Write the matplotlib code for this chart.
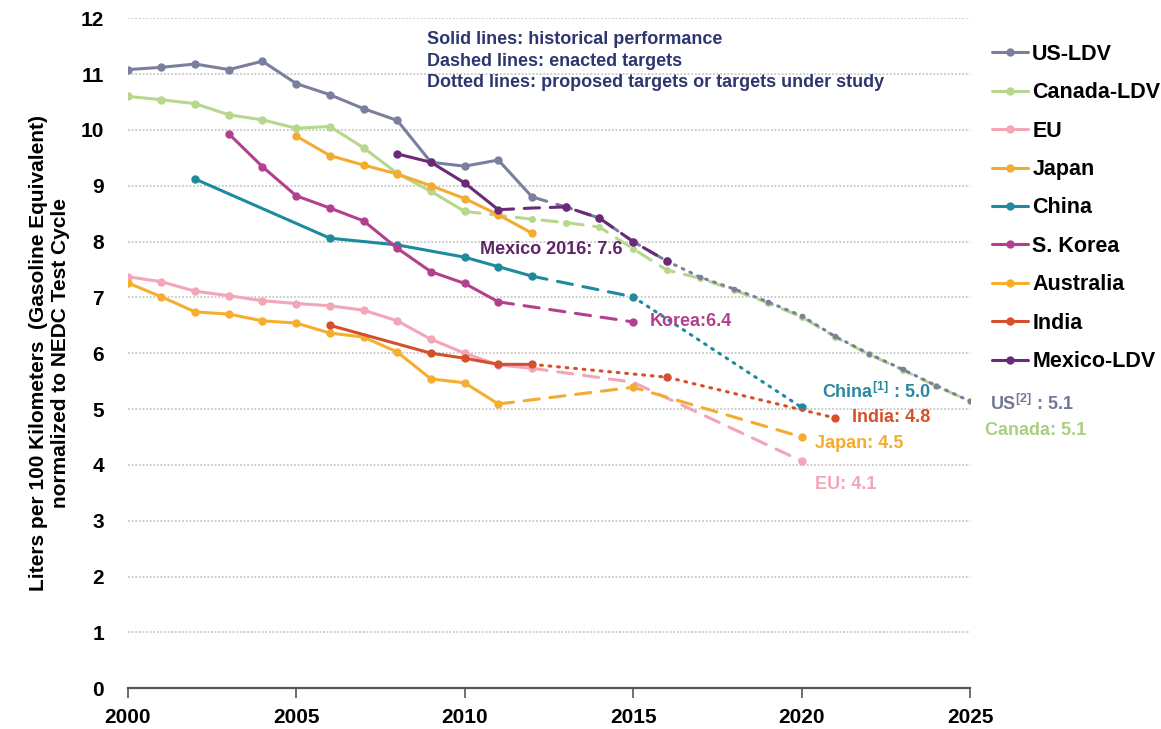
import matplotlib
matplotlib.use("Agg")
import matplotlib.pyplot as plt

plt.rcParams.update({
    "font.family": "Liberation Sans",
    "font.weight": "bold",
    "mathtext.fontset": "custom",
    "mathtext.rm": "Liberation Sans",
    "mathtext.bf": "Liberation Sans:bold",
})

# ── Colours ───────────────────────────────────────────────────────────────────
US_C     = "#7b7f9e"
CANADA_C = "#b6d78c"
EU_C     = "#f2a6b8"
JAPAN_C  = "#f5ab30"
CHINA_C  = "#1e8a9e"
KOREA_C  = "#b3408e"
AUS_C    = "#f5ae2e"
INDIA_C  = "#d4502a"
MEXICO_C = "#6b2a78"
NOTE_C   = "#2e3670"

# ── Data (L/100 km, gasoline equivalent, NEDC) ────────────────────────────────
us_hist_years = list(range(2000, 2013))
us_hist = [11.08, 11.12, 11.18, 11.08, 11.23, 10.83, 10.63, 10.38, 10.17, 9.42, 9.35, 9.46, 8.8]
us_dash_years = [2012, 2013, 2014, 2015, 2016]
us_dash = [8.8, 8.62, 8.42, 8.0, 7.65]
us_dot_years = list(range(2016, 2026))
us_dot = [7.65, 7.36, 7.15, 6.92, 6.67, 6.3, 5.99, 5.71, 5.42, 5.14]

canada_hist_years = list(range(2000, 2011))
canada_hist = [10.6, 10.54, 10.47, 10.27, 10.18, 10.03, 10.06, 9.68, 9.22, 8.9, 8.54]
canada_dash_years = list(range(2010, 2026))
canada_dash = [8.54, 8.47, 8.4, 8.34, 8.26, 7.87, 7.49, 7.34, 7.13, 6.9, 6.65,
               6.29, 5.98, 5.7, 5.41, 5.14]

eu_hist_years = list(range(2000, 2013))
eu_hist = [7.37, 7.28, 7.11, 7.03, 6.94, 6.89, 6.85, 6.77, 6.58, 6.25, 6.0, 5.79, 5.73]
eu_dash_years = [2012, 2015, 2020]
eu_dash = [5.73, 5.48, 4.07]

japan_hist_years = list(range(2005, 2013))
japan_hist = [9.89, 9.54, 9.37, 9.21, 9.0, 8.77, 8.48, 8.15]
japan_dash_years = [2011, 2015, 2020]
japan_dash = [5.09, 5.39, 4.5]

china_hist_years = [2002, 2006, 2008, 2010, 2011, 2012]
china_hist = [9.12, 8.06, 7.94, 7.72, 7.55, 7.38]
china_dash_years = [2012, 2015]
china_dash = [7.38, 7.01]
china_dot_years = [2015, 2020]
china_dot = [7.01, 5.03]

korea_hist_years = list(range(2003, 2012))
korea_hist = [9.93, 9.34, 8.82, 8.6, 8.37, 7.88, 7.46, 7.25, 6.92]
korea_dash_years = [2011, 2015]
korea_dash = [6.92, 6.56]

aus_hist_years = list(range(2000, 2012))
aus_hist = [7.26, 7.01, 6.74, 6.7, 6.58, 6.54, 6.36, 6.29, 6.02, 5.54, 5.47, 5.09]

india_hist_years = [2006, 2009, 2010, 2011, 2012]
india_hist = [6.5, 6.0, 5.91, 5.8, 5.8]
india_dot_years = [2012, 2016, 2021]
india_dot = [5.8, 5.57, 4.84]

mexico_hist_years = [2008, 2009, 2010, 2011]
mexico_hist = [9.57, 9.42, 9.05, 8.57]
mexico_dash_years = [2011, 2012, 2013, 2014, 2015, 2016]
mexico_dash = [8.57, 8.6, 8.62, 8.42, 8.0, 7.65]

# ── Figure ────────────────────────────────────────────────────────────────────
fig = plt.figure(figsize=(11.61, 7.29), dpi=100)
ax = fig.add_axes([0.110, 0.056, 0.7255, 0.919])

LW = 2.2
MS = 5
DASH = (0, (5, 3.5))
DOT = (0, (0.6, 2.2))

def solid(x, y, c, label=None):
    ax.plot(x, y, color=c, lw=LW, marker="o", ms=MS, label=label,
            solid_capstyle="round", zorder=3)

def target(x, y, c, ls, ms=MS, markevery=None):
    ax.plot(x, y, color=c, lw=LW, ls=ls, marker="o", ms=ms,
            markevery=markevery, dash_capstyle="round", zorder=3)

# targets first, histories on top
target(canada_dash_years, canada_dash, CANADA_C, DASH, ms=4)
target(us_dot_years, us_dot, US_C, DOT, ms=3)
target(us_dash_years, us_dash, US_C, DASH, markevery=[1, 2, 3, 4])
target(mexico_dash_years, mexico_dash, MEXICO_C, DASH, markevery=[2, 3, 4, 5])
target(eu_dash_years, eu_dash, EU_C, DASH, markevery=[2])
target(japan_dash_years, japan_dash, JAPAN_C, DASH, markevery=[1, 2])
target(china_dash_years, china_dash, CHINA_C, DASH, markevery=[1])
target(china_dot_years, china_dot, CHINA_C, DOT, markevery=[1])
target(korea_dash_years, korea_dash, KOREA_C, DASH, markevery=[1])
target(india_dot_years, india_dot, INDIA_C, DOT, markevery=[1, 2])

solid(us_hist_years, us_hist, US_C, "US-LDV")
solid(canada_hist_years, canada_hist, CANADA_C, "Canada-LDV")
solid(eu_hist_years, eu_hist, EU_C, "EU")
solid(japan_hist_years, japan_hist, JAPAN_C, "Japan")
solid(china_hist_years, china_hist, CHINA_C, "China")
solid(korea_hist_years, korea_hist, KOREA_C, "S. Korea")
solid(aus_hist_years, aus_hist, AUS_C, "Australia")
solid(india_hist_years, india_hist, INDIA_C, "India")
solid(mexico_hist_years, mexico_hist, MEXICO_C, "Mexico-LDV")

# ── Axes styling ──────────────────────────────────────────────────────────────
ax.set_xlim(2000, 2025)
ax.set_ylim(0, 12)
ax.set_xticks(range(2000, 2026, 5))
ax.set_yticks(range(0, 13))
for y in range(1, 13):
    ax.axhline(y, color="#c8c8c8", lw=1.3, ls=(0, (1, 1)), zorder=1)
for s in ["top", "right", "left"]:
    ax.spines[s].set_visible(False)
ax.spines["bottom"].set_color("#555555")
ax.spines["bottom"].set_linewidth(1.6)
ax.tick_params(axis="y", length=0, pad=17, labelsize=15)
ax.tick_params(axis="x", length=7, width=1.2, color="#555555", pad=7, labelsize=15)
for lab in ax.get_xticklabels() + ax.get_yticklabels():
    lab.set_fontweight("bold")

ax.set_ylabel("Liters per 100 Kilometers  (Gasoline Equivalent)\nnormalized to NEDC Test Cycle",
              fontsize=15, fontweight="bold", labelpad=8, linespacing=1.15)

# ── Annotations ───────────────────────────────────────────────────────────────
ax.text(2008.87, 11.77, "Solid lines: historical performance\nDashed lines: enacted targets\n"
        "Dotted lines: proposed targets or targets under study",
        fontsize=13, fontweight="bold", color=NOTE_C, va="top", ha="left",
        linespacing=1.35)

labels = [
    (2010.45, 7.85, "Mexico 2016: 7.6", "#5e2468"),
    (2015.5, 6.56, "Korea:6.4", KOREA_C),
    (2020.6, 5.3, r"China$^{\mathbf{[1]}}$ : 5.0", "#2a88a0"),
    (2021.5, 4.84, "India: 4.8", INDIA_C),
    (2020.4, 4.39, "Japan: 4.5", JAPAN_C),
    (2020.4, 3.64, "EU: 4.1", EU_C),
    (2025.6, 5.09, r"US$^{\mathbf{[2]}}$ : 5.1", "#737896"),
    (2025.45, 4.62, "Canada: 5.1", "#a9cf80"),
]
for x, y, t, c in labels:
    ax.text(x, y, t, fontsize=13, fontweight="bold", color=c,
            va="center", ha="left", clip_on=False)

# ── Legend ────────────────────────────────────────────────────────────────────
handles, labs = ax.get_legend_handles_labels()
fig.legend(handles, labs, loc="upper left", bbox_to_anchor=(0.8544, 0.94),
           frameon=False, labelspacing=0.81, handlelength=1.67,
           handletextpad=0.2, borderpad=0, borderaxespad=0,
           prop={"weight": "bold", "size": 15.5})

fig.savefig("out.png", dpi=100)
